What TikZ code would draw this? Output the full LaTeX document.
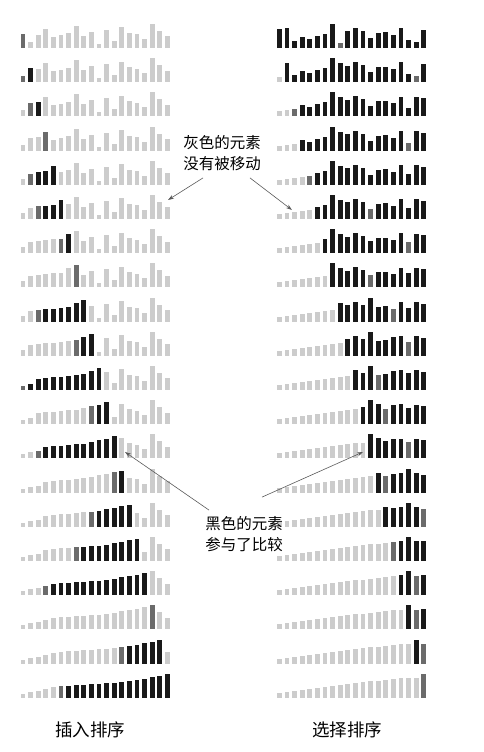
\documentclass[tikz,border=0pt]{standalone}
\usepackage{fontspec}
\newfontfamily\cjk{Noto Sans CJK SC}
\usetikzlibrary{arrows.meta}

\definecolor{barlight}{gray}{0.8}
\definecolor{bardark}{gray}{0.42}
\definecolor{barblack}{gray}{0.1}

\newcount\posj
\newcount\posk
\newcount\valv
\newcount\valw

\begin{document}
\begin{tikzpicture}[x=1pt, y=1pt,
    note/.style={font=\cjk\fontsize{15.5}{21}\selectfont, align=center, inner sep=0pt},
    title/.style={font=\cjk\fontsize{17.5}{21}\selectfont, inner sep=0pt},
    pointer/.style={-{Stealth[length=6pt,width=4pt]}, draw=black!65, line width=0.6pt}]
\useasboundingbox (0,0) rectangle (483,752);

% starting arrays, heights in tenths of a pixel
\foreach \v [count=\k from 0] in {140,60,130,190,110,125,145,220,120,160,40,180,70,205,150,135,90,240,170,115}
  {\expandafter\xdef\csname ins\k\endcsname{\v}}
\foreach \v [count=\k from 0] in {190,195,70,110,90,120,140,240,50,165,200,170,100,150,155,130,198,80,60,180}
  {\expandafter\xdef\csname sel\k\endcsname{\v}}

% insertion sort, one row per step
\foreach \n in {0,...,19} {
  \global\posj=\n
  \global\valv=\csname ins\n\endcsname\relax
  \loop
    \def\goon{0}%
    \ifnum\posj>0
      \global\posk=\posj \global\advance\posk by -1
      \global\valw=\csname ins\number\posk\endcsname\relax
      \ifnum\valw>\valv
        \expandafter\xdef\csname ins\number\posj\endcsname{\number\valw}%
        \global\advance\posj by -1
        \def\goon{1}%
      \fi
    \fi
  \ifnum\goon=1 \repeat
  \expandafter\xdef\csname ins\number\posj\endcsname{\number\valv}%
  \pgfmathsetmacro\yb{704-34.2*\n}
  \foreach \k in {0,...,19} {
    \def\barcol{barblack}%
    \ifnum\k<\posj \def\barcol{barlight}\fi
    \ifnum\k=\posj \def\barcol{bardark}\fi
    \ifnum\k>\n \def\barcol{barlight}\fi
    \edef\v{\csname ins\k\endcsname}
    \fill[fill=\barcol] (20.6+7.6*\k,\yb) rectangle +(4.8,\v/10);
  }
}

% selection sort, one row per step
\foreach \n in {0,...,19} {
  \global\posj=\n
  \global\valv=\csname sel\n\endcsname\relax
  \foreach \k in {\n,...,19} {
    \ifnum\csname sel\k\endcsname<\valv
      \global\posj=\k
      \global\valv=\csname sel\k\endcsname\relax
    \fi
  }
  \pgfmathsetmacro\yb{704-34.2*\n}
  \foreach \k in {0,...,19} {
    \def\barcol{barblack}%
    \ifnum\k<\n \def\barcol{barlight}\fi
    \ifnum\k=\posj \def\barcol{bardark}\fi
    \edef\v{\csname sel\k\endcsname}
    \fill[fill=\barcol] (276.9+7.6*\k,\yb) rectangle +(4.8,\v/10);
  }
  \global\valw=\csname sel\n\endcsname\relax
  \expandafter\xdef\csname sel\n\endcsname{\csname sel\number\posj\endcsname}%
  \expandafter\xdef\csname sel\number\posj\endcsname{\number\valw}%
}

\node[note] (grey) at (222,599) {灰色的元素\\没有被移动};
\node[note] (black) at (244,218) {黑色的元素\\参与了比较};
\node[title] (ins) at (90,22) {插入排序};
\node[title] (sel) at (347,22) {选择排序};

\coordinate (gl) at (168,552);
\coordinate (gr) at (292,542);
\coordinate (bl) at (125,300);
\coordinate (br) at (363,300);

\draw[pointer] ([shift={(20,-7)}]grey.south west) -- (gl);
\draw[pointer] ([shift={(-11,-7)}]grey.south east) -- (gr);
\draw[pointer] ([shift={(4,6)}]black.north west) -- (bl);
\draw[pointer] ([shift={(-21,19)}]black.north east) -- (br);
\end{tikzpicture}
\end{document}
